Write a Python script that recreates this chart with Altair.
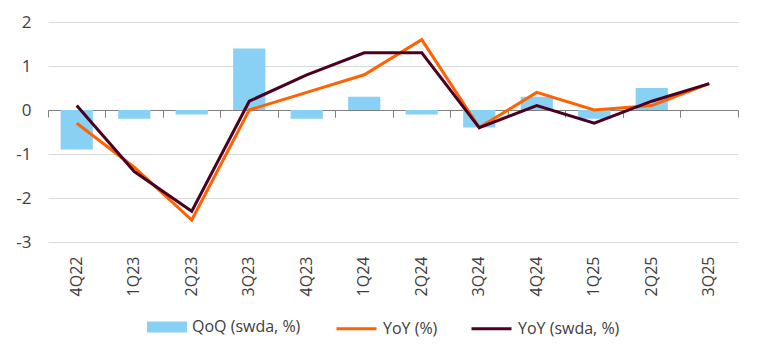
import altair as alt
import pandas as pd

quarters = ["4Q22", "1Q23", "2Q23", "3Q23", "4Q23", "1Q24", "2Q24",
            "3Q24", "4Q24", "1Q25", "2Q25", "3Q25"]
qoq_swda = [-0.9, -0.2, -0.1, 1.4, -0.2, 0.3, -0.1, -0.4, 0.3, -0.2, 0.5, None]
yoy = [-0.3, -1.3, -2.5, 0.0, 0.4, 0.8, 1.6, -0.4, 0.4, 0.0, 0.1, 0.6]
yoy_swda = [0.1, -1.4, -2.3, 0.2, 0.8, 1.3, 1.3, -0.4, 0.1, -0.3, 0.2, 0.6]

bar_name = "QoQ (swda, %)"
line_names = ["YoY (%)", "YoY (swda, %)"]
line_colors = ["#FF6200", "#4B0022"]
bar_color = "#89D0F5"

FONT = "Open Sans"
TXT = "#404040"
W, H = 690, 220
Y_MIN, Y_MAX = -3, 2
zero_from_bottom = H * (0 - Y_MIN) / (Y_MAX - Y_MIN)

bars_df = pd.DataFrame({"q": quarters, "v": qoq_swda, "s": bar_name})
yoy_df = pd.DataFrame({"q": quarters, "v": yoy, "s": line_names[0]})
swda_df = pd.DataFrame({"q": quarters, "v": yoy_swda, "s": line_names[1]})

x_scale = alt.Scale(domain=quarters, paddingInner=0, paddingOuter=0)
y_scale = alt.Scale(domain=[Y_MIN, Y_MAX], nice=False)

y_axis = alt.Axis(values=[-3, -2, -1, 0, 1, 2], domain=False, ticks=False,
                  grid=True, gridColor="#D9D9D9", gridWidth=1,
                  labelExpr="datum.value + ''",
                  labelFont=FONT, labelFontSize=17, labelColor=TXT,
                  labelPadding=17, title=None)

label_axis = alt.Axis(orient="bottom", domain=False, ticks=False, grid=False,
                      labelAngle=-90, labelFont=FONT, labelFontSize=16,
                      labelColor=TXT, labelPadding=14, title=None)

zero_axis_a = alt.Axis(orient="bottom", offset=-zero_from_bottom, domain=True,
                       domainColor="#808080", domainWidth=1, ticks=True,
                       tickColor="#808080", tickSize=7, bandPosition=0,
                       labels=False, grid=False, title=None)
zero_axis_b = alt.Axis(orient="bottom", offset=-zero_from_bottom, domain=False,
                       ticks=True, tickColor="#808080", tickSize=7,
                       bandPosition=1, labels=False, grid=False, title=None)

fill_legend = alt.Legend(orient="none", legendX=99, legendY=285, title=None,
                         padding=0, symbolType="M-1,-0.27H1V0.27H-1Z",
                         symbolSize=1600, symbolStrokeWidth=0,
                         labelFont=FONT, labelFontSize=16, labelColor=TXT,
                         labelOffset=5, direction="horizontal")
stroke_legend = alt.Legend(orient="none", legendX=287, legendY=285, title=None,
                           padding=0, symbolType="stroke", symbolSize=1600,
                           symbolStrokeWidth=3, labelFont=FONT,
                           labelFontSize=16, labelColor=TXT, labelOffset=5,
                           columnPadding=27, direction="horizontal")

bars = alt.Chart(bars_df).mark_bar(width={"band": 0.56}).encode(
    x=alt.X("q:N", scale=x_scale, axis=label_axis, sort=quarters),
    y=alt.Y("v:Q", scale=y_scale, axis=y_axis),
    fill=alt.Fill("s:N", scale=alt.Scale(domain=[bar_name], range=[bar_color]),
                  legend=fill_legend),
)

stroke_scale = alt.Scale(domain=line_names, range=line_colors)

line_yoy = alt.Chart(yoy_df).mark_line(strokeWidth=3).encode(
    x=alt.X("q:N", scale=x_scale, axis=zero_axis_a, sort=quarters),
    y=alt.Y("v:Q", scale=y_scale, axis=y_axis),
    stroke=alt.Stroke("s:N", scale=stroke_scale, legend=stroke_legend),
)

line_swda = alt.Chart(swda_df).mark_line(strokeWidth=3).encode(
    x=alt.X("q:N", scale=x_scale, axis=zero_axis_b, sort=quarters),
    y=alt.Y("v:Q", scale=y_scale, axis=y_axis),
    stroke=alt.Stroke("s:N", scale=stroke_scale, legend=stroke_legend),
)

chart = alt.layer(bars, line_yoy, line_swda).resolve_axis(
    x="independent"
).properties(
    width=W, height=H,
    view=alt.ViewBackground(stroke="transparent", strokeWidth=0),
    autosize=alt.AutoSizeParams(type="none"),
    padding={"left": 40, "top": 14, "right": 15, "bottom": 108},
).configure_view(strokeWidth=0, stroke="transparent").configure(background="white")

chart.save("out.html", embed_options={"renderer": "svg", "actions": False})
